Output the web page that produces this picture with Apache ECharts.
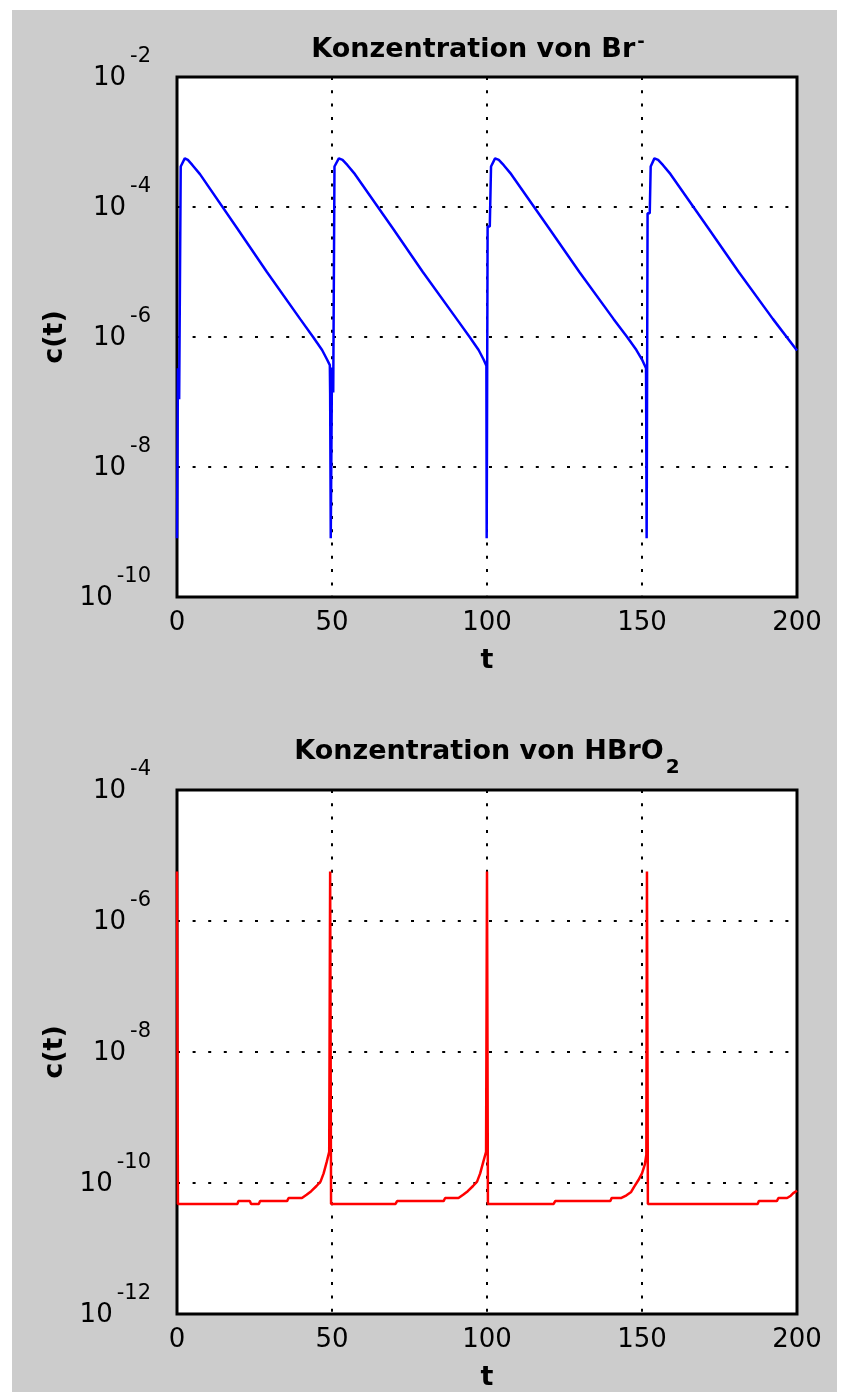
<!DOCTYPE html>
<html>
<head>
<meta charset="utf-8">
<script src="https://cdn.jsdelivr.net/npm/echarts@6/dist/echarts.min.js"></script>
<style>
  html, body { margin: 0; padding: 0; background: #ffffff; }
  #chart { position: absolute; left: 12px; top: 10px; width: 825px; height: 1382px; }
</style>
</head>
<body>
<div id="chart"></div>
<script>
// Axis ticks (the value axes are labelled every second decade)
const timeTicks = [0, 50, 100, 150, 200];
const brExponents = [-10, -8, -6, -4, -2];
const hbro2Exponents = [-12, -10, -8, -6, -4];

// Text
const brTitle = ['Konzentration von Br', '-'];
const hbro2Title = ['Konzentration von HBrO', '2'];
const yName = 'c(t)';
const xName = 't';

// Br- concentration over time: [t, c]
const brData = [
  [0, 8e-10], [0.3, 3.3e-7], [0.7, 1.1e-7], [1.2, 4.2e-4], [2.5, 5.6e-4],
  [3.5, 5.3e-4], [5.0, 4.4e-4], [7.4, 3.2e-4], [19.4, 4.7e-5], [29.0, 1.0e-5],
  [39.7, 1.9e-6], [43.9, 1.0e-6], [46.8, 6.3e-7], [48.4, 4.5e-7], [49.3, 3.7e-7],
  [49.4, 1.4e-7], [49.6, 8e-10], [50.0, 3.4e-7], [50.4, 1.4e-7], [50.8, 4.2e-4],
  [52.2, 5.6e-4], [53.4, 5.3e-4], [55.0, 4.4e-4], [57.4, 3.2e-4], [69.6, 4.7e-5],
  [79.3, 1.0e-5], [90.2, 1.9e-6], [94.4, 1.0e-6], [97.3, 6.3e-7], [98.9, 4.5e-7],
  [99.8, 3.6e-7], [99.9, 8e-10], [100.2, 5e-5], [100.9, 5e-5], [101.3, 4.2e-4],
  [102.6, 5.6e-4], [103.8, 5.3e-4], [105.4, 4.4e-4], [107.8, 3.2e-4], [120.0, 4.7e-5],
  [129.8, 1.0e-5], [140.8, 1.9e-6], [145.2, 1.0e-6], [148.2, 6.3e-7], [150.0, 4.5e-7],
  [151.3, 3.3e-7], [151.5, 8e-10], [151.8, 8e-5], [152.5, 8e-5], [152.8, 4.2e-4],
  [154.0, 5.6e-4], [155.2, 5.3e-4], [156.8, 4.4e-4], [159.2, 3.2e-4], [171.4, 4.7e-5],
  [181.2, 1.0e-5], [192.2, 1.9e-6], [200, 6.2e-7]
];

// HBrO2 concentration over time: [t, c]
const hbro2Data = [
  [0, 5.7e-6], [0.3, 4.8e-11], [19.5, 4.8e-11], [19.8, 5.3e-11], [23.5, 5.3e-11],
  [23.9, 4.8e-11], [26.4, 4.8e-11], [26.8, 5.3e-11], [35.5, 5.3e-11], [36.0, 5.9e-11],
  [40.3, 5.9e-11], [41.8, 6.6e-11], [43.3, 7.5e-11], [45.0, 9.0e-11], [46.3, 1.05e-10],
  [47.3, 1.4e-10], [48.3, 2.1e-10], [49.1, 3.0e-10], [49.4, 5.7e-6], [49.7, 4.8e-11],
  [70.5, 4.8e-11], [71.0, 5.3e-11], [86.0, 5.3e-11], [86.5, 5.9e-11], [90.8, 5.9e-11],
  [92.3, 6.6e-11], [93.8, 7.5e-11], [95.5, 9.0e-11], [96.8, 1.05e-10], [97.8, 1.4e-10],
  [98.8, 2.1e-10], [99.7, 3.0e-10], [100.0, 5.7e-6], [100.3, 4.8e-11], [121.5, 4.8e-11],
  [122.0, 5.3e-11], [139.8, 5.3e-11], [140.2, 5.9e-11], [143.2, 5.9e-11], [145.0, 6.5e-11],
  [146.5, 7.3e-11], [147.5, 8.8e-11], [148.8, 1.1e-10], [150.0, 1.4e-10], [150.9, 1.9e-10],
  [151.4, 2.7e-10], [151.6, 5.7e-6], [151.9, 4.8e-11], [187.3, 4.8e-11], [187.7, 5.3e-11],
  [193.5, 5.3e-11], [194.0, 5.9e-11], [196.8, 5.9e-11], [198.0, 6.4e-11], [198.8, 7.0e-11],
  [200, 7.6e-11]
];

// The chart canvas sits 12px / 10px inside the page; layout below is in page pixels.
const OX = 12, OY = 10;
const plotLeft = 177, plotWidth = 620;
const panels = [
  { top: 77, height: 520 },
  { top: 790, height: 528 }
];

const tickFont = 'DejaVu Sans';
const boldFont = 'DejaVu Sans';

function powerLabel(v) {
  return '{b|10}{e|' + Math.round(Math.log10(v)) + '}';
}

const xAxisBase = (gridIndex) => ({
  type: 'value',
  gridIndex,
  min: timeTicks[0],
  max: timeTicks[timeTicks.length - 1],
  interval: timeTicks[1] - timeTicks[0],
  name: xName,
  nameLocation: 'middle',
  nameGap: 50,
  nameTextStyle: { fontFamily: boldFont, fontWeight: 'bold', fontSize: 27, color: '#000' },
  axisLine: { show: false },
  axisTick: { show: false },
  axisLabel: { fontFamily: tickFont, fontSize: 26, color: '#000', margin: 13 },
  splitLine: { show: true, lineStyle: { color: '#000', width: 2, type: [3, 10.3] } }
});

// Log axis whose tick step is two decades: base 100 keeps ticks at 10^-10, 10^-8, ...
const yAxisBase = (gridIndex, exps) => ({
  type: 'log',
  logBase: 100,
  gridIndex,
  min: Math.pow(10, exps[0]),
  max: Math.pow(10, exps[exps.length - 1]),
  splitNumber: exps.length - 1,
  name: yName,
  nameLocation: 'middle',
  nameRotate: 90,
  nameGap: 104,
  nameTextStyle: { fontFamily: boldFont, fontWeight: 'bold', fontSize: 27, color: '#000' },
  axisLine: { show: false },
  axisTick: { show: false },
  axisLabel: {
    margin: 26,
    formatter: powerLabel,
    rich: {
      b: { fontFamily: tickFont, fontSize: 26, color: '#000', lineHeight: 62, verticalAlign: 'middle', padding: [3, 0, 0, 0] },
      e: { fontFamily: tickFont, fontSize: 21, color: '#000', lineHeight: 21, verticalAlign: 'top', padding: [0, 0, 0, 4] }
    }
  },
  splitLine: { show: true, lineStyle: { color: '#000', width: 2, type: [3, 12.6] } }
});

const chart = echarts.init(document.getElementById('chart'), null, { renderer: 'canvas' });

chart.setOption({
  animation: false,
  backgroundColor: '#cccccc',
  title: [
    {
      text: '{t|' + brTitle[0] + '}{s|' + brTitle[1] + '}',
      left: 473 - OX,
      top: 18,
      textAlign: 'center',
      textStyle: {
        rich: {
          t: { fontFamily: boldFont, fontWeight: 'bold', fontSize: 27, color: '#000', lineHeight: 34, verticalAlign: 'middle' },
          s: { fontFamily: boldFont, fontWeight: 'bold', fontSize: 18, color: '#000', lineHeight: 18, verticalAlign: 'top', padding: [0, 0, 0, 2] }
        }
      }
    },
    {
      text: '{t|' + hbro2Title[0] + '}{s|' + hbro2Title[1] + '}',
      left: 482 - OX,
      top: 711,
      textAlign: 'center',
      textStyle: {
        rich: {
          t: { fontFamily: boldFont, fontWeight: 'bold', fontSize: 27, color: '#000', lineHeight: 52, verticalAlign: 'middle' },
          s: { fontFamily: boldFont, fontWeight: 'bold', fontSize: 20, color: '#000', lineHeight: 20, verticalAlign: 'bottom', padding: [0, 0, 0, 2] }
        }
      }
    }
  ],
  grid: panels.map(p => ({
    left: plotLeft - OX,
    top: p.top - OY,
    width: plotWidth,
    height: p.height,
    show: true,
    backgroundColor: '#ffffff',
    borderColor: '#000000',
    borderWidth: 3
  })),
  xAxis: [xAxisBase(0), xAxisBase(1)],
  yAxis: [yAxisBase(0, brExponents), yAxisBase(1, hbro2Exponents)],
  series: [
    {
      type: 'line',
      xAxisIndex: 0,
      yAxisIndex: 0,
      data: brData,
      showSymbol: false,
      lineStyle: { color: '#0000ff', width: 2.5 },
      itemStyle: { color: '#0000ff' }
    },
    {
      type: 'line',
      xAxisIndex: 1,
      yAxisIndex: 1,
      data: hbro2Data,
      showSymbol: false,
      lineStyle: { color: '#ff0000', width: 2.5 },
      itemStyle: { color: '#ff0000' }
    }
  ]
});
</script>
</body>
</html>
